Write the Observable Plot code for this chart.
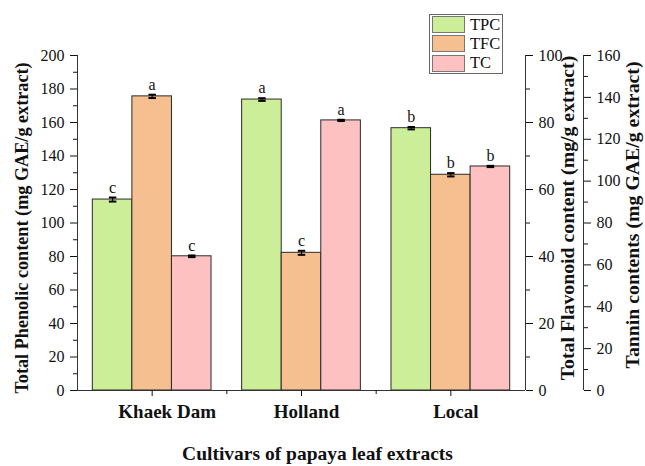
<!DOCTYPE html>
<html>
<head>
<meta charset="utf-8">
<script src="https://cdn.jsdelivr.net/npm/d3@7"></script>
<script src="https://cdn.jsdelivr.net/npm/@observablehq/plot@0.6"></script>
<style>
  body { margin: 0; background: #fff; }
  #wrap { position: relative; width: 645px; height: 466px; font-family: "Liberation Serif", "Times New Roman", serif; }
  #legend { position: absolute; left: 429px; top: 14px; width: 72px; border: 1.5px solid #666; background: #fff; }
  #legend .row { display: flex; align-items: center; height: 19.3px; }
  #legend .sw { width: 33px; height: 17px; margin-left: 2px; border: 1px solid #777; box-sizing: border-box; }
  #legend .lab { margin-left: 5px; font-size: 16.5px; color: #111; }
</style>
</head>
<body>
<div id="wrap"></div>
<script>
// Cultivars and the three measured contents
const cultivars = ["Khaek Dam", "Holland", "Local"];
const seriesNames = ["TPC", "TFC", "TC"];
const seriesColors = ["#cdee98", "#f6bf90", "#fec1c1"];

// TPC: mg GAE/g extract (left axis)
const tpc = [114.0, 173.7, 156.6];
const tpcErr = [1.2, 0.8, 0.7];
const tpcLetters = ["c", "a", "b"];

// TFC: mg/g extract (first right axis, 0–100)
const tfc = [87.8, 41.1, 64.4];
const tfcErr = [0.5, 0.6, 0.5];
const tfcLetters = ["a", "c", "b"];

// TC: mg GAE/g extract (second right axis, 0–160)
const tc = [64.1, 129.0, 107.0];
const tcErr = [0.4, 0.3, 0.3];
const tcLetters = ["c", "a", "b"];

// Tick values for each axis
const leftTicks = d3.range(0, 201, 20);
const flavTicks = d3.range(0, 101, 20);
const tanTicks = d3.range(0, 161, 20);

// Secondary axes share the left scale: factor converts each unit to the 0–200 frame
const flavFactor = 200 / 100;
const tanFactor = 200 / 160;

const values = [tpc, tfc, tc];
const errors = [tpcErr, tfcErr, tcErr];
const letters = [tpcLetters, tfcLetters, tcLetters];
const factors = [1, flavFactor, tanFactor];

const barW = 0.265;
const rows = [];
seriesNames.forEach((s, j) => {
  cultivars.forEach((c, i) => {
    const f = factors[j];
    const center = i + 1 + (j - 1) * barW;
    rows.push({
      cultivar: c, series: s, center,
      x1: center - barW / 2, x2: center + barW / 2,
      y: values[j][i] * f,
      lo: (values[j][i] - errors[j][i]) * f,
      hi: (values[j][i] + errors[j][i]) * f,
      letter: letters[j][i]
    });
  });
});

const xDomain = [0.5, cultivars.length + 0.5];
const tanOffset = 58;
const serif = "Liberation Serif";
const catLabel = d => cultivars[d - 1];

const plot = Plot.plot({
  width: 645,
  height: 466,
  marginLeft: 77,
  marginRight: 120,
  marginTop: 55,
  marginBottom: 76,
  style: { fontFamily: serif, fontSize: "16px", color: "#111", background: "#fff" },
  x: { domain: xDomain, axis: null },
  y: { domain: [0, 200], axis: null },
  marks: [
    // bars
    Plot.rectY(rows, {
      x1: "x1", x2: "x2", y1: 0, y2: "y",
      fill: d => seriesColors[seriesNames.indexOf(d.series)],
      stroke: "#2a2a2a", strokeWidth: 1
    }),
    // error bars
    Plot.ruleX(rows, { x: "center", y1: "lo", y2: "hi", stroke: "#000", strokeWidth: 1 }),
    Plot.link(rows, { x1: d => d.center - 0.025, x2: d => d.center + 0.025, y1: "hi", y2: "hi", stroke: "#000", strokeWidth: 2 }),
    Plot.link(rows, { x1: d => d.center - 0.025, x2: d => d.center + 0.025, y1: "lo", y2: "lo", stroke: "#000", strokeWidth: 2 }),
    // significance letters
    Plot.text(rows, { x: "center", y: "hi", text: "letter", dy: -10, fontSize: 16, fill: "#111" }),

    // axis lines
    Plot.ruleY([0], { stroke: "#333" }),
    Plot.ruleX([xDomain[0]], { y1: 0, y2: 200, stroke: "#333" }),
    Plot.ruleX([xDomain[1]], { y1: 0, y2: 200, stroke: "#333" }),
    Plot.ruleX([xDomain[1]], { y1: 0, y2: 200, dx: tanOffset, stroke: "#333" }),

    // left axis: Total Phenolic content
    Plot.axisY({ anchor: "left", ticks: leftTicks, tickSize: 7, tickPadding: 6, label: null, fontSize: 16 }),
    Plot.axisY({ anchor: "left", ticks: d3.range(10, 200, 20), tickSize: 4, tickFormat: () => "", label: null }),

    // first right axis: Total Flavonoid content
    Plot.axisY({ anchor: "right", ticks: flavTicks.map(t => t * flavFactor), tickFormat: d => d / flavFactor, tickSize: 7, tickPadding: 6, label: null, fontSize: 16 }),
    Plot.axisY({ anchor: "right", ticks: d3.range(10, 100, 20).map(t => t * flavFactor), tickSize: 4, tickFormat: () => "", label: null }),

    // second right axis: Tannin contents
    Plot.axisY({ anchor: "right", dx: tanOffset, ticks: tanTicks.map(t => t * tanFactor), tickFormat: d => Math.round(d / tanFactor), tickSize: 7, tickPadding: 6, label: null, fontSize: 16 }),
    Plot.axisY({ anchor: "right", dx: tanOffset, ticks: d3.range(10, 160, 20).map(t => t * tanFactor), tickSize: 4, tickFormat: () => "", label: null }),

    // bottom axis: tick lines, then the cultivar names
    Plot.axisX({ ticks: cultivars.map((c, i) => i + 1), tickSize: 6, tickFormat: () => "", label: null }),
    Plot.axisX({ ticks: d3.range(1.5, cultivars.length, 1), tickSize: 4, tickFormat: () => "", label: null }),
    Plot.axisX({ ticks: [1], tickFormat: catLabel, tickSize: 6, tickPadding: 8, stroke: "none", dx: 15, fontSize: 19, fontWeight: "bold", label: null }),
    Plot.axisX({ ticks: [2, 3], tickFormat: catLabel, tickSize: 6, tickPadding: 8, stroke: "none", dx: 5, fontSize: 19, fontWeight: "bold", label: null }),

    // axis titles
    Plot.text(["Total Phenolic content (mg GAE/g extract)"], { frameAnchor: "left", textAnchor: "middle", dx: -55, dy: 5, rotate: -90, fontSize: 18.2, fontWeight: "bold", text: d => d }),
    Plot.text(["Total Flavonoid content (mg/g extract)"], { frameAnchor: "right", textAnchor: "middle", dx: 42, dy: -5, rotate: -90, fontSize: 19.8, fontWeight: "bold", text: d => d }),
    Plot.text(["Tannin contents (mg GAE/g extract)"], { frameAnchor: "right", textAnchor: "middle", dx: 107, dy: -8, rotate: -90, fontSize: 19.8, fontWeight: "bold", text: d => d }),
    Plot.text(["Cultivars of papaya leaf extracts"], { frameAnchor: "bottom", textAnchor: "middle", dy: 69, dx: 16, fontSize: 19.5, fontWeight: "bold", text: d => d })
  ]
});

const wrap = document.getElementById("wrap");
wrap.appendChild(plot);

// legend box
const legend = document.createElement("div");
legend.id = "legend";
seriesNames.forEach((s, j) => {
  const row = document.createElement("div");
  row.className = "row";
  const sw = document.createElement("div");
  sw.className = "sw";
  sw.style.background = seriesColors[j];
  const lab = document.createElement("span");
  lab.className = "lab";
  lab.textContent = s;
  row.appendChild(sw);
  row.appendChild(lab);
  legend.appendChild(row);
});
wrap.appendChild(legend);
</script>
</body>
</html>
